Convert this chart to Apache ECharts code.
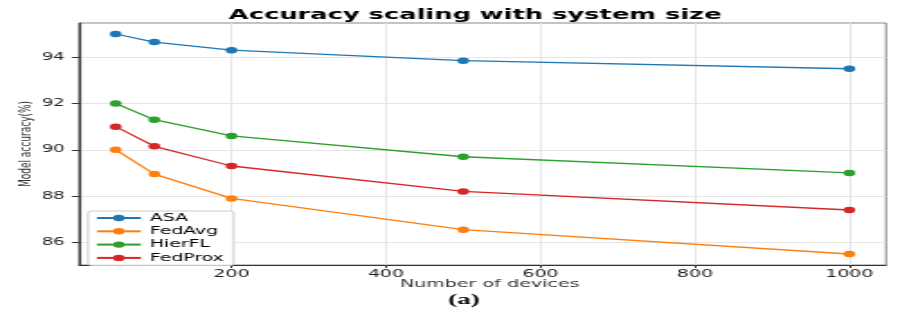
<!DOCTYPE html>
<html>
<head>
<meta charset="utf-8">
<script src="https://cdn.jsdelivr.net/npm/echarts@6/dist/echarts.min.js"></script>
<style>
  html, body { margin: 0; padding: 0; background: #fff; overflow: hidden; width: 897px; height: 316px; }
  #wrap { width: 498.333px; height: 316px; transform: scaleX(1.8); transform-origin: 0 0; }
</style>
</head>
<body>
<div id="wrap"></div>
<script>
const devices = [50, 100, 200, 500, 1000];
const asaValues = [95.0, 94.65, 94.3, 93.85, 93.5];
const fedAvgValues = [90.0, 88.95, 87.9, 86.55, 85.5];
const hierFLValues = [92.0, 91.3, 90.6, 89.7, 89.0];
const fedProxValues = [91.0, 90.15, 89.3, 88.2, 87.4];
const xTickValues = [200, 400, 600, 800, 1000];
const yTickValues = [86, 88, 90, 92, 94];
const seriesNames = ['ASA', 'FedAvg', 'HierFL', 'FedProx'];
const seriesColors = ['#1f77b4', '#ff7f0e', '#2ca02c', '#d62728'];
const seriesValues = [asaValues, fedAvgValues, hierFLValues, fedProxValues];

const chart = echarts.init(document.getElementById('wrap'), null, { renderer: 'canvas', width: 498.333, height: 316 });

const font = 'DejaVu Sans';

const option = {
  animation: false,
  backgroundColor: '#ffffff',
  title: {
    text: 'Accuracy scaling with system size',
    left: 259,
    textAlign: 'center',
    top: 3,
    textStyle: { fontFamily: font, fontWeight: 'bold', fontSize: 14.3, color: '#000' }
  },
  graphic: [{
    type: 'text',
    left: 249,
    top: 293,
    style: { text: '(a)', font: 'bold 15px "Liberation Serif"', fill: '#000' }
  }],
  legend: {
    orient: 'vertical',
    left: 48.9,
    top: 211,
    data: seriesNames,
    itemWidth: 24.4,
    itemHeight: 8,
    itemGap: 2.3,
    padding: [1.5, 5.5, 2, 3.9],
    backgroundColor: 'rgba(255,255,255,0.85)',
    borderColor: '#cccccc',
    borderWidth: 1,
    borderRadius: 2,
    textStyle: { fontFamily: font, fontSize: 10.5, color: '#000', lineHeight: 10 }
  },
  grid: { left: 43.9, right: 6.1, top: 23, bottom: 51, show: true, borderColor: '#888888', borderWidth: 1, outerBoundsMode: 'none', containLabel: false },
  xAxis: {
    type: 'value',
    min: 2.5,
    max: 1047.5,
    name: 'Number of devices',
    nameLocation: 'middle',
    nameGap: 14,
    nameMoveOverlap: false,
    nameTextStyle: { fontFamily: font, fontSize: 10.6, color: '#333', padding: [0, 0, 0, 8] },
    axisLine: { show: true, lineStyle: { color: '#333', width: 1.2 } },
    axisTick: { show: true, length: 3, lineStyle: { color: '#333' }, customValues: xTickValues },
    axisLabel: { fontFamily: font, fontSize: 10.5, color: '#222', margin: 4, customValues: xTickValues, formatter: v => String(v) },
    splitLine: { show: true, lineStyle: { color: '#e6e6e6', width: 1 } }
  },
  yAxis: {
    type: 'value',
    min: 85.025,
    max: 95.475,
    name: 'Model accuracy(%)',
    nameLocation: 'middle',
    nameGap: 25,
    nameMoveOverlap: false,
    nameTextStyle: { fontFamily: font, fontSize: 9, color: '#333' },
    axisLine: { show: true, lineStyle: { color: '#333', width: 1.2 } },
    axisTick: { show: true, length: 4, lineStyle: { color: '#333' }, customValues: yTickValues },
    axisLabel: { fontFamily: font, fontSize: 10, color: '#222', margin: 8, customValues: yTickValues, formatter: v => String(v) },
    splitLine: { show: true, lineStyle: { color: '#e6e6e6', width: 1 } }
  },
  series: seriesNames.map((name, i) => ({
    name: name,
    type: 'line',
    data: devices.map((d, j) => [d, seriesValues[i][j]]),
    symbol: 'circle',
    symbolSize: 6.5,
    color: seriesColors[i],
    itemStyle: { color: seriesColors[i] },
    lineStyle: { color: seriesColors[i], width: 1.3 }
  }))
};

chart.setOption(option);
</script>
</body>
</html>
